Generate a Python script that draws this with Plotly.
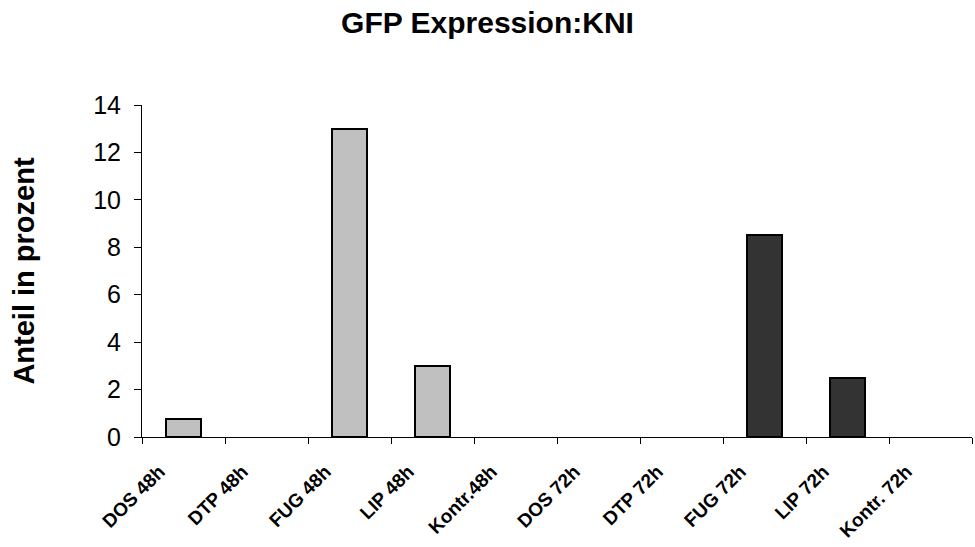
import plotly.graph_objects as go

categories = ["DOS 48h", "DTP 48h", "FUG 48h", "LIP 48h", "Kontr.48h",
              "DOS 72h", "DTP 72h", "FUG 72h", "LIP 72h", "Kontr. 72h"]
values = [0.75, 0, 13, 3, 0, 0, 0, 8.5, 2.5, 0]
bar_colors = ["#C0C0C0"] * 5 + ["#333333"] * 5
y_ticks = [0, 2, 4, 6, 8, 10, 12, 14]

FONT = "Liberation Sans, Arial, sans-serif"

fig = go.Figure(go.Bar(
    x=categories, y=values, width=0.41,
    marker=dict(color=bar_colors,
                line=dict(color="#000000", width=[2 if v > 0 else 0 for v in values])),
))

fig.update_layout(
    width=975, height=547,
    margin=dict(l=142, r=3, t=105, b=110),
    paper_bgcolor="white", plot_bgcolor="white",
    font=dict(family=FONT, color="#000000"),
    title=dict(text="<b>GFP Expression:KNI</b>", x=0.5, xanchor="center",
               yref="container", y=0.958, yanchor="middle", font=dict(size=30)),
    showlegend=False,
    bargap=0,
)
fig.update_xaxes(
    type="category", tickson="boundaries", ticks="outside", ticklen=6,
    tickcolor="#000000", tickwidth=1, showline=True, linecolor="#000000", linewidth=1,
    tickangle=-45, tickfont=dict(size=19, family=FONT),
    ticklabelshift=-24, ticklabelstandoff=15,
    showgrid=False, zeroline=False,
    ticktext=["<b>%s</b>" % c for c in categories], tickvals=categories,
)
fig.update_yaxes(
    range=[0, 14], tickvals=y_ticks, ticks="outside", ticklen=7, tickcolor="#000000",
    showline=True, linecolor="#000000", linewidth=1, showgrid=False, zeroline=False,
    ticklabelstandoff=8,
    tickfont=dict(size=25), title=dict(text="<b>Anteil in prozent</b>", font=dict(size=29), standoff=50),
)

fig.write_html("out.html")
